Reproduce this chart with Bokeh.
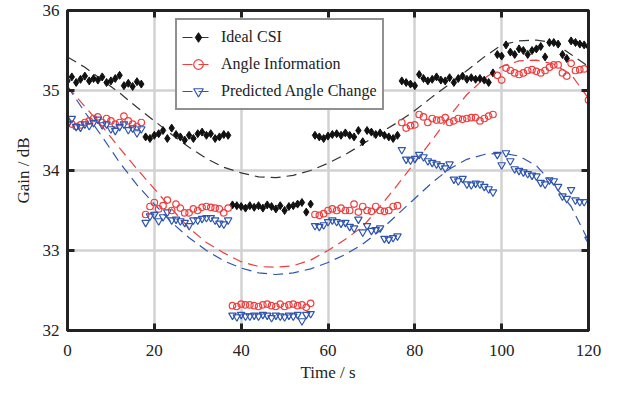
from bokeh.plotting import figure
from bokeh.models import Range1d, FixedTicker, LinearAxis, Legend, LegendItem
from bokeh.embed import file_html
from bokeh.resources import INLINE

# ---------------- data ----------------
time_s = list(range(0, 121))

ideal_csi = [
    35.12, 35.17, 35.10, 35.14, 35.18, 35.12, 35.15, 35.13, 35.17, 35.10, 35.12, 35.15, 35.19, 35.06, 35.09, 35.05, 35.11, 35.08,
    34.42, 34.40, 34.44, 34.46, 34.50, 34.40, 34.53, 34.45, 34.42, 34.38, 34.44, 34.40, 34.46, 34.48, 34.44, 34.46, 34.40, 34.42, 34.45, 34.44,
    33.57, 33.56, 33.55, 33.53, 33.56, 33.54, 33.56, 33.53, 33.57, 33.55, 33.52, 33.56, 33.50, 33.55, 33.56, 33.58, 33.60, 33.48, 33.58,
    34.44, 34.42, 34.40, 34.43, 34.45, 34.46, 34.44, 34.47, 34.44, 34.42, 34.50, 34.36, 34.50, 34.48, 34.45, 34.47, 34.44, 34.42, 34.40, 34.44,
    35.12, 35.10, 35.08, 35.06, 35.20, 35.15, 35.12, 35.14, 35.17, 35.13, 35.12, 35.16, 35.10, 35.15, 35.18, 35.14, 35.16, 35.14, 35.15, 35.13, 35.10, 35.22,
    35.45, 35.43, 35.57, 35.48, 35.45, 35.52, 35.50, 35.45, 35.50, 35.52, 35.55, 35.42, 35.60, 35.60, 35.58, 35.45, 35.40, 35.62, 35.60, 35.58, 35.57, 35.55,
]

angle_info = [
    34.60, 34.58, 34.55, 34.57, 34.60, 34.62, 34.65, 34.67, 34.60, 34.65, 34.62, 34.58, 34.60, 34.68, 34.62, 34.58, 34.55, 34.60,
    33.45, 33.55, 33.60, 33.52, 33.56, 33.63, 33.50, 33.58, 33.53, 33.47, 33.47, 33.52, 33.50, 33.54, 33.55, 33.54, 33.53, 33.52, 33.47, 33.53,
    32.31, 32.30, 32.33, 32.32, 32.32, 32.31, 32.30, 32.32, 32.33, 32.31, 32.30, 32.33, 32.30, 32.32, 32.33, 32.31, 32.32, 32.29, 32.34,
    33.45, 33.44, 33.46, 33.50, 33.52, 33.50, 33.53, 33.50, 33.50, 33.58, 33.48, 33.55, 33.50, 33.49, 33.55, 33.50, 33.49, 33.50, 33.55, 33.56,
    34.60, 34.53, 34.56, 34.57, 34.70, 34.67, 34.60, 34.65, 34.63, 34.63, 34.66, 34.60, 34.62, 34.65, 34.64, 34.65, 34.66, 34.66, 34.62, 34.65, 34.68, 34.70,
    35.19, 35.13, 35.28, 35.25, 35.22, 35.20, 35.22, 35.25, 35.26, 35.24, 35.22, 35.25, 35.29, 35.32, 35.32, 35.22, 35.18, 35.34, 35.25, 35.26, 35.27, 34.88,
]

predicted = [
    34.58, 34.65, 34.55, 34.54, 34.58, 34.56, 34.60, 34.64, 34.57, 34.58, 34.52, 34.50, 34.55, 34.58, 34.51, 34.53, 34.47, 34.52,
    33.35, 33.43, 33.45, 33.37, 33.42, 33.48, 33.38, 33.39, 33.37, 33.35, 33.31, 33.38, 33.38, 33.40, 33.41, 33.41, 33.38, 33.34, 33.33, 33.38,
    32.19, 32.17, 32.20, 32.18, 32.18, 32.19, 32.18, 32.20, 32.19, 32.16, 32.19, 32.18, 32.17, 32.19, 32.18, 32.20, 32.12, 32.20, 32.21,
    33.31, 33.30, 33.32, 33.36, 33.38, 33.36, 33.34, 33.35, 33.30, 33.28, 33.39, 33.23, 33.31, 33.25, 33.26, 33.28, 33.15, 33.14, 33.16, 33.18,
    34.26, 34.14, 34.13, 34.15, 34.20, 34.17, 34.12, 34.10, 34.08, 34.06, 34.03, 34.08, 33.89, 33.87, 33.90, 33.83, 33.82, 33.84, 33.83, 33.80, 33.77, 33.73,
    34.20, 34.07, 34.22, 34.12, 34.02, 34.00, 33.98, 33.96, 33.94, 33.93, 33.85, 33.83, 33.88, 33.87, 33.80, 33.68, 33.65, 33.76, 33.63, 33.61, 33.61, 33.14,
]

curve_t = [0, 4, 8, 12, 16, 20, 24, 28, 32, 36, 40, 44, 48, 52, 56, 60,
           64, 68, 72, 76, 80, 84, 88, 92, 96, 100, 104, 108, 112, 116, 120]
ideal_curve = [35.42, 35.29, 35.13, 34.97, 34.79, 34.62, 34.45, 34.29, 34.15, 34.04, 33.97, 33.92, 33.91, 33.94, 34.00, 34.09,
               34.20, 34.33, 34.47, 34.60, 34.75, 34.92, 35.08, 35.25, 35.42, 35.57, 35.62, 35.63, 35.60, 35.45, 35.30]
angle_curve = [35.05, 34.80, 34.55, 34.28, 34.02, 33.77, 33.52, 33.28, 33.10, 32.97, 32.86, 32.80, 32.79, 32.81, 32.88, 33.00,
               33.14, 33.30, 33.55, 33.82, 34.10, 34.38, 34.68, 34.95, 35.15, 35.30, 35.37, 35.38, 35.33, 35.20, 34.90]
pred_curve = [35.05, 34.73, 34.42, 34.10, 33.82, 33.58, 33.35, 33.16, 33.00, 32.87, 32.78, 32.72, 32.70, 32.72, 32.77, 32.85,
              32.95, 33.08, 33.25, 33.45, 33.65, 33.85, 34.02, 34.14, 34.20, 34.22, 34.18, 34.06, 33.82, 33.55, 33.12]

x_ticks = [0, 20, 40, 60, 80, 100, 120]
y_ticks = [32, 33, 34, 35, 36]
labels = ["Ideal CSI", "Angle Information", "Predicted Angle Change"]

# ---------------- style ----------------
FONT = "Liberation Serif"
INK = "#222222"
RED = "#f03c3c"
BLUE = "#2f55b0"
DASH = "10 6"

p = figure(width=608, height=384,
           x_range=Range1d(0, 120), y_range=Range1d(32, 36),
           output_backend="svg", toolbar_location=None,
           min_border_left=67, min_border_right=20, min_border_top=10, min_border_bottom=51,
           background_fill_color="white", border_fill_color="white")

p.outline_line_color = INK
p.outline_line_width = 3

for g, t in ((p.xgrid, x_ticks), (p.ygrid, y_ticks)):
    g.ticker = FixedTicker(ticks=t)
    g.grid_line_color = "#d2d2d2"
    g.grid_line_width = 2.5


def style_axis(ax, ticks, show_labels=True):
    ax.ticker = FixedTicker(ticks=ticks)
    ax.major_tick_in = 7
    ax.major_tick_out = 0
    ax.minor_tick_line_color = None
    ax.major_tick_line_width = 3
    ax.major_tick_line_color = INK
    ax.axis_line_color = INK
    ax.axis_line_width = 3
    if show_labels:
        ax.major_label_text_font = FONT
        ax.major_label_text_font_size = "17px"
        ax.major_label_text_color = INK
        ax.axis_label_text_font = FONT
        ax.axis_label_text_font_size = "17px"
        ax.axis_label_text_font_style = "normal"
        ax.axis_label_text_color = INK
    else:
        ax.major_label_text_color = None
        ax.major_label_text_font_size = "1px"
        ax.major_label_standoff = 0


p.xaxis.axis_label = "Time / s"
p.yaxis.axis_label = "Gain / dB"
style_axis(p.xaxis[0], x_ticks)
style_axis(p.yaxis[0], y_ticks)
p.xaxis.major_label_standoff = 14
p.xaxis.axis_label_standoff = 4
p.yaxis.major_label_standoff = 8
p.yaxis.axis_label_standoff = 7

top = LinearAxis()
style_axis(top, x_ticks, show_labels=False)
p.add_layout(top, "above")
right = LinearAxis()
style_axis(right, y_ticks, show_labels=False)
p.add_layout(right, "right")

# ---------------- glyphs ----------------
l1 = p.line(curve_t, ideal_curve, line_color="#333333", line_width=1.2, line_dash=DASH)
l2 = p.line(curve_t, angle_curve, line_color=RED, line_width=1.2, line_dash=DASH)
l3 = p.line(curve_t, pred_curve, line_color=BLUE, line_width=1.2, line_dash=DASH)

s1 = p.scatter(time_s, ideal_csi, marker="diamond", size=8, fill_color="#111111", line_color="#111111")
s2 = p.scatter(time_s, angle_info, marker="circle", size=6.5, fill_color=None, line_color=RED, line_width=1.2)
s3 = p.scatter(time_s, predicted, marker="inverted_triangle", size=7.5, fill_color=None, line_color=BLUE, line_width=1.2)

legend = Legend(items=[
    LegendItem(label=labels[0], renderers=[l1, s1]),
    LegendItem(label=labels[1], renderers=[l2, s2]),
    LegendItem(label=labels[2], renderers=[l3, s3]),
], location=(108, 220), margin=0, padding=5, spacing=3,
    label_height=24, glyph_height=24, glyph_width=32, label_standoff=7,
    label_text_font=FONT, label_text_font_size="16px", label_text_color=INK,
    border_line_color=INK, border_line_width=2.5,
    background_fill_color="white", background_fill_alpha=1.0)
p.add_layout(legend)

open("out.html", "w").write(file_html(p, INLINE))
